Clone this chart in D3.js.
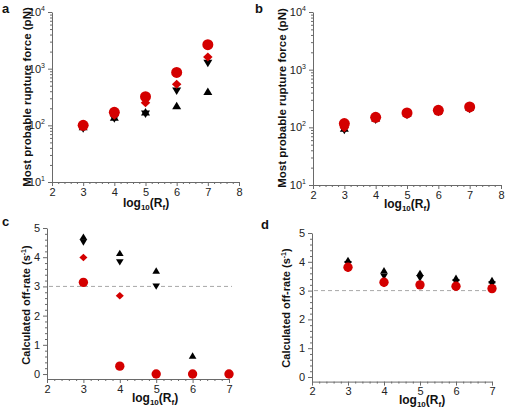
<!DOCTYPE html>
<html><head><meta charset="utf-8">
<script src="https://cdn.jsdelivr.net/npm/d3@7"></script>
<style>body{margin:0;background:#fff}svg{display:block}</style>
</head><body>
<svg id="c" width="506" height="409"></svg>
<script>
// ---- data ----
const xVals = [3, 4, 5, 6, 7];
// panel a: most probable rupture force (pN)
const aRedCircle  = [100, 170, 320, 860, 2650];
const aRedDiamond = [95, 150, 250, 530, 1600];
const aBlackDown  = [91, 136, 165, 420, 1300];
const aBlackUp    = [91, 134, 165, 212, 380];
// panel b
const bRedCircle  = [116, 149, 178, 197, 226];
const bRedDiamond = [98, 145, 173, 193, 221];
const bBlackDown  = [93, 140, 168, 190, 215];
const bBlackUp    = [93, 140, 168, 190, 215];
// panel c: calculated off-rate (s^-1)
const cRedCircle  = [3.14, 0.27, 0, 0, 0];
const cRedDiamond = [3.99, 2.68, 0, 0, 0];
const cBlackDown  = [4.54, 3.86, 3.03, 0, 0];
const cBlackUp    = [4.67, 4.11, 3.51, 0.6, 0];
// panel d
const dRedCircle  = [3.81, 3.29, 3.2, 3.15, 3.07];
const dRedDiamond = [3.78, 3.25, 3.18, 3.13, 3.05];
const dBlackDown  = [3.95, 3.52, 3.46, 3.32, 3.25];
const dBlackUp    = [4.03, 3.67, 3.58, 3.41, 3.33];
// ticks
const xTicks = [2, 3, 4, 5, 6, 7, 8];
const xTicksCD = [2, 3, 4, 5, 6, 7];
const logTicks = [10, 100, 1000, 10000];
const linTicks = [0, 1, 2, 3, 4, 5];
const refRate = 3;

const RED = "#d40000", BLACK = "#000";
const svg = d3.select("#c");
const FONT = "Liberation Sans, Arial, sans-serif";

function triPath(w, h, down) {
  const s = down ? -1 : 1;
  return `M0,${-s*2*h/3}L${w/2},${s*h/3}L${-w/2},${s*h/3}Z`;
}
function diaPath(w, h) {
  return `M0,${-h/2}L${w/2},0L0,${h/2}L${-w/2},0Z`;
}

function panel(cfg) {
  const g = svg.append("g");
  const x = d3.scaleLinear().domain(cfg.xDomain).range(cfg.xRange);
  const y = cfg.log ? d3.scaleLog().domain(cfg.yDomain).range(cfg.yRange)
                    : d3.scaleLinear().domain(cfg.yDomain).range(cfg.yRange);
  const axisColor = "#6a6a6a";
  const xAxisY = cfg.yRange[0];
  const yAxisX = cfg.xRange[0];

  // minor x ticks
  const xMinor = [];
  for (let v = cfg.xDomain[0]; v < cfg.xDomain[1] - 1e-9; v += 1)
    for (let k = 1; k < 5; k++) xMinor.push(v + k * 0.2);
  g.append("g").attr("transform", `translate(0,${xAxisY})`)
    .call(d3.axisBottom(x).tickValues(xMinor).tickSize(2).tickFormat(""))
    .call(s => s.select(".domain").remove());
  const xa = g.append("g").attr("transform", `translate(0,${xAxisY})`)
    .call(d3.axisBottom(x).tickValues(cfg.xTicks).tickSize(4).tickSizeOuter(0).tickPadding(2)
      .tickFormat(d3.format("d")));
  // minor y ticks
  let yMinor = [];
  if (cfg.log) {
    for (let d = 10; d < 10000; d *= 10) for (let k = 2; k < 10; k++) yMinor.push(d * k);
  } else {
    for (let v = 0; v < 5; v++) for (let k = 1; k < 5; k++) yMinor.push(v + k * 0.2);
  }
  g.append("g").attr("transform", `translate(${yAxisX},0)`)
    .call(d3.axisLeft(y).tickValues(yMinor).tickSize(2).tickFormat(""))
    .call(s => s.select(".domain").remove());
  const ya = g.append("g").attr("transform", `translate(${yAxisX},0)`)
    .call(d3.axisLeft(y).tickValues(cfg.yTicks).tickSize(4).tickSizeOuter(0).tickPadding(3)
      .tickFormat(cfg.log ? "" : d3.format("d")));
  [xa, ya].forEach(a => {
    a.selectAll("text").attr("font-family", FONT).attr("font-size", 11).attr("fill", "#222");
  });
  g.selectAll(".domain").attr("stroke", axisColor);
  g.selectAll(".tick line").attr("stroke", axisColor);
  if (cfg.log) {
    ya.selectAll(".tick text").each(function(d) {
      const t = d3.select(this);
      t.text("10");
      t.append("tspan").attr("dy", -5).attr("font-size", 7).text(Math.round(Math.log10(d)));
    });
  }

  // reference line
  if (cfg.ref != null) {
    g.append("line").attr("x1", yAxisX + 2).attr("x2", cfg.refEnd)
      .attr("y1", y(cfg.ref)).attr("y2", y(cfg.ref))
      .attr("stroke", "#a8a8a8").attr("stroke-dasharray", "4,3").attr("stroke-width", 1);
  }

  // markers
  const sz = cfg.markerScale;
  const series = [
    { v: cfg.up, path: triPath(9 * sz, 7.5 * sz, false), c: BLACK },
    { v: cfg.down, path: triPath(9 * sz, 7.5 * sz, true), c: BLACK },
    { v: cfg.diamond, path: diaPath(9.5 * sz, 9 * sz), c: RED },
  ];
  series.forEach(s => {
    g.append("g").selectAll("path").data(xVals.map((xv, i) => [xv, s.v[i]])).join("path")
      .attr("transform", d => `translate(${x(d[0])},${y(d[1])})`)
      .attr("d", s.path).attr("fill", s.c);
  });
  g.append("g").selectAll("circle").data(xVals.map((xv, i) => [xv, cfg.circle[i]])).join("circle")
    .attr("cx", d => x(d[0])).attr("cy", d => y(d[1])).attr("r", 5.5 * sz).attr("fill", RED);

  // titles
  const xl = g.append("text").attr("x", cfg.xLabelX).attr("y", cfg.xLabelY)
    .attr("text-anchor", "middle").attr("font-family", FONT).attr("font-weight", "bold")
    .attr("font-size", 12).attr("fill", "#111");
  xl.append("tspan").text("log");
  xl.append("tspan").attr("dy", 2.5).attr("font-size", 8).text("10");
  xl.append("tspan").attr("dy", -2.5).text("(R");
  xl.append("tspan").attr("dy", 2.5).attr("font-size", 8).text("f");
  xl.append("tspan").attr("dy", -2.5).text(")");

  const yl = g.append("text")
    .attr("transform", `translate(${cfg.yLabelX},${cfg.yLabelY}) rotate(-90)`)
    .attr("text-anchor", "middle").attr("font-family", FONT).attr("font-weight", "bold")
    .attr("font-size", cfg.yLabelSize).attr("fill", "#111");
  if (cfg.log) {
    yl.text("Most probable rupture force (pN)");
  } else {
    yl.append("tspan").text("Calculated off-rate (s");
    yl.append("tspan").attr("dy", -4).attr("font-size", 7).text("-1");
    yl.append("tspan").attr("dy", 4).text(")");
  }
  g.append("text").attr("x", cfg.letterX).attr("y", cfg.letterY)
    .attr("font-family", FONT).attr("font-weight", "bold").attr("font-size", 13)
    .attr("fill", "#111").text(cfg.letter);
}

panel({ letter: "a", letterX: 2, letterY: 13, log: true,
  xDomain: [2, 8], xRange: [52, 239], yDomain: [10, 10000], yRange: [182, 12],
  xTicks: xTicks, yTicks: logTicks,
  circle: aRedCircle, diamond: aRedDiamond, down: aBlackDown, up: aBlackUp,
  markerScale: 1, xLabelX: 146, xLabelY: 207, yLabelX: 31, yLabelY: 97, yLabelSize: 11.5 });
panel({ letter: "b", letterX: 255, letterY: 13, log: true,
  xDomain: [2, 8], xRange: [313, 501], yDomain: [10, 10000], yRange: [185, 12],
  xTicks: xTicks, yTicks: logTicks,
  circle: bRedCircle, diamond: bRedDiamond, down: bBlackDown, up: bBlackUp,
  markerScale: 1, xLabelX: 407, xLabelY: 208, yLabelX: 286, yLabelY: 98, yLabelSize: 11.5 });
panel({ letter: "c", letterX: 2, letterY: 226, log: false,
  xDomain: [2, 7], xRange: [47, 229], yDomain: [-0.17, 5], yRange: [379, 228],
  xTicks: xTicksCD, yTicks: linTicks, ref: refRate, refEnd: 232,
  circle: cRedCircle, diamond: cRedDiamond, down: cBlackDown, up: cBlackUp,
  markerScale: 0.85, xLabelX: 155, xLabelY: 402, yLabelX: 30, yLabelY: 305, yLabelSize: 11 });
panel({ letter: "d", letterX: 261, letterY: 229, log: false,
  xDomain: [2, 7], xRange: [312, 492], yDomain: [-0.16, 5], yRange: [381.6, 233],
  xTicks: xTicksCD, yTicks: linTicks, ref: refRate, refEnd: 496,
  circle: dRedCircle, diamond: dRedDiamond, down: dBlackDown, up: dBlackUp,
  markerScale: 0.85, xLabelX: 422, xLabelY: 404, yLabelX: 290, yLabelY: 308, yLabelSize: 11 });
</script>
</body></html>
